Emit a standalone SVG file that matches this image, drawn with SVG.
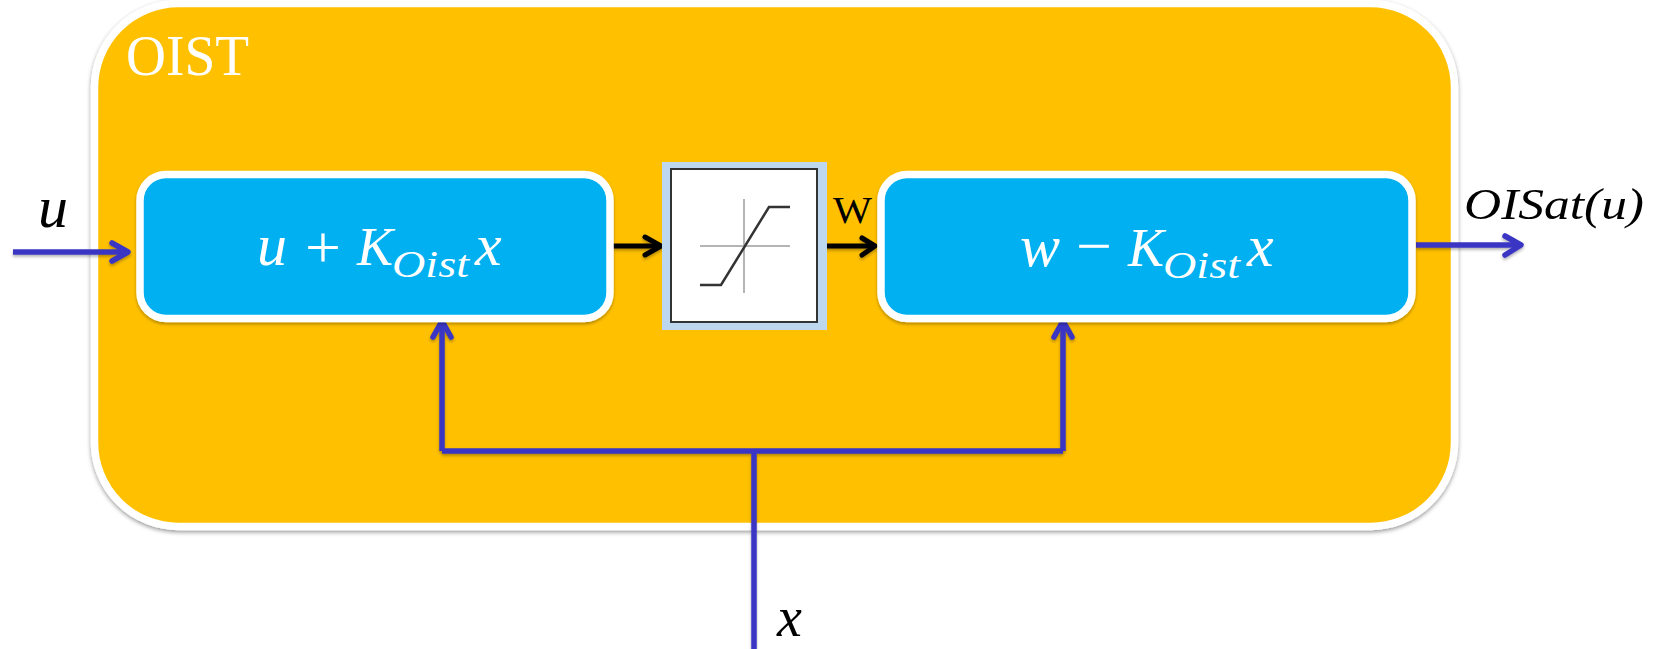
<svg xmlns="http://www.w3.org/2000/svg" width="1663" height="649" viewBox="0 0 1663 649">
<style>
.m{font-family:"Liberation Serif","DejaVu Serif",serif;font-style:italic}
.r{font-family:"Liberation Serif","DejaVu Serif",serif}
.w{fill:#fff}.k{fill:#000}
.box{fill:#00B0F0;stroke:#fff;stroke-width:7.5}
.b{fill:none;stroke:#3A35C4;stroke-width:5.500}
.h{fill:none;stroke:#3A35C4;stroke-width:5.500;stroke-linecap:round;stroke-linejoin:round}
.a{fill:none;stroke:#000;stroke-width:5}
.ah{fill:none;stroke:#000;stroke-width:5;stroke-linecap:round;stroke-linejoin:round}
</style>
<defs>
<filter id="sh" x="-5%" y="-5%" width="110%" height="112%"><feDropShadow dx="0" dy="2" stdDeviation="2" flood-color="#000" flood-opacity=".4"/></filter>
<filter id="ls" x="-10%" y="-10%" width="120%" height="120%"><feDropShadow dx="0" dy="2" stdDeviation="1.5" flood-color="#000" flood-opacity=".3"/></filter>
</defs>
<rect width="1663" height="649" fill="#fff"/>
<g id="oist">
<rect x="94.500" y="3.500" width="1360" height="523" rx="84" fill="#FFC000" stroke="#fff" stroke-width="7.500" filter="url(#sh)"/>
<text x="126" y="75" class="r w" font-size="56" textLength="123" lengthAdjust="spacingAndGlyphs">OIST</text>
</g>
<g id="connectors">
<g filter="url(#ls)">
<path class="b" d="M13 252H128"/><path class="h" d="M112 243L128 252L112 261"/>
<path class="b" d="M1416 245H1521"/><path class="h" d="M1505 236L1521 245L1505 255"/>
<path class="b" d="M754 451V649"/>
<path class="b" d="M442 451H1063M442 451V322M1063 451V322"/>
<path class="h" d="M433 337L442 321L451 337"/><path class="h" d="M1054 337L1063 321L1072 337"/>
<path class="a" d="M613 246H661"/><path class="ah" d="M645 237L661 246L645 255"/>
<path class="a" d="M824 246H875"/><path class="ah" d="M862 238L875 246L862 255"/>
</g>
</g>
<g id="block1">
<rect class="box" x="140" y="174.500" width="470" height="144" rx="26" filter="url(#ls)"/>
<text class="m w" x="257" y="265" font-size="60">u</text>
<text class="r w" x="305" y="267" font-size="60" textLength="36" lengthAdjust="spacingAndGlyphs">+</text>
<text class="m w" x="357" y="265" font-size="54">K</text>
<text class="m w" x="392" y="277" font-size="38" textLength="77" lengthAdjust="spacingAndGlyphs">Oist</text>
<text class="m w" x="475" y="265" font-size="60">x</text>
</g>
<g id="saturation">
<rect x="662" y="162" width="165" height="168" fill="#BDD7EE"/>
<rect x="671" y="169" width="146" height="153" fill="#fff" stroke="#333" stroke-width="2"/>
<path d="M744 199V293M700 246H790" fill="none" stroke="#b5b5b5" stroke-width="2"/>
<path d="M700 285H721L769 207H790" fill="none" stroke="#333" stroke-width="2.500"/>
</g>
<g id="block2">
<rect class="box" x="881" y="174.500" width="531" height="144" rx="26" filter="url(#ls)"/>
<text class="m w" x="1020" y="266" font-size="60">w</text>
<text class="r w" x="1076" y="266" font-size="60" textLength="36" lengthAdjust="spacingAndGlyphs">−</text>
<text class="m w" x="1128" y="266" font-size="54">K</text>
<text class="m w" x="1163" y="278" font-size="38" textLength="77" lengthAdjust="spacingAndGlyphs">Oist</text>
<text class="m w" x="1247" y="266" font-size="60">x</text>
</g>
<g id="labels">
<text class="m k" x="38" y="227" font-size="60">u</text>
<text class="m k" x="1464" y="219" font-size="45" textLength="180" lengthAdjust="spacingAndGlyphs">OISat(u)</text>
<text class="m k" x="777" y="636" font-size="56">x</text>
<text class="r k" x="833" y="223" font-size="38" textLength="39" lengthAdjust="spacingAndGlyphs">W</text>
</g>
</svg>
